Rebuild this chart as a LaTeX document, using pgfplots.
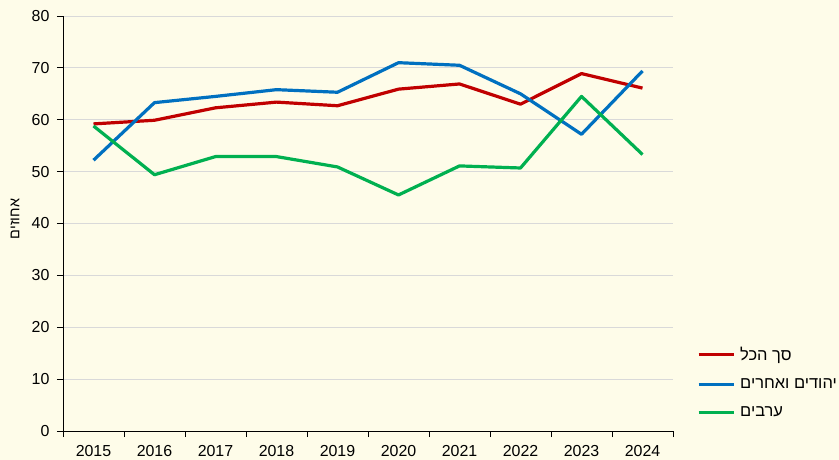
\documentclass[border=0pt]{standalone}
\usepackage{pgfplots}
\pgfplotsset{compat=1.18}
\usepackage{fontspec}
\setmainfont{Liberation Sans}
\newfontfamily\hebfont[Script=Hebrew]{Liberation Sans}
\TeXXeTstate=1
\definecolor{bgc}{HTML}{FEFCE9}
\definecolor{cred}{HTML}{C00000}
\definecolor{cblue}{HTML}{0070C0}
\definecolor{cgreen}{HTML}{00B050}
\definecolor{gridc}{HTML}{D9D9D9}
\begin{document}
\begin{tikzpicture}
\fill[bgc] (0,0) rectangle (839bp,460bp);
\begin{axis}[
  at={(63bp,29bp)}, anchor=south west,
  scale only axis, width=610bp, height=415bp,
  xmin=-0.5, xmax=9.5, ymin=0, ymax=80,
  axis x line*=bottom, axis y line*=left,
  axis line style={black, line width=0.8bp},
  xtick={0,...,9},
  xticklabels={2015,2016,2017,2018,2019,2020,2021,2022,2023,2024},
  minor xtick={-0.5,0.5,...,9.5},
  ytick={0,10,...,80},
  major x tick style={draw=none},
  minor x tick style={black, line width=0.8bp},
  y tick style={black, line width=0.8bp},
  tick align=outside, major tick length=6bp, minor tick length=6bp,
  ymajorgrids, grid style={gridc, line width=0.8bp},
  tick label style={font=\fontsize{16}{19}\selectfont},
  /pgf/number format/assume math mode=true,
  xticklabel style={yshift=-4.5bp},
  yticklabel style={xshift=-4bp},
  ylabel={\hebfont\beginR אחוזים\endR},
  every axis y label/.style={at={(axis description cs:-0.0787,0.511)}, anchor=center, rotate=90, font=\fontsize{14.5}{17}\selectfont},
  legend style={draw=none, fill=none, at={(1.039,0.208)}, anchor=north west,
    font=\fontsize{16.5}{19}\selectfont, row sep=13bp, inner sep=0pt},
  legend cell align=left,
  legend image code/.code={\draw[#1] (0bp,0bp) -- (35bp,0bp);},
  every axis plot/.append style={line width=3.2bp, line join=round},
]
\addplot[cred] coordinates {(0,59.2)(1,59.9)(2,62.3)(3,63.4)(4,62.7)(5,65.9)(6,66.9)(7,63.0)(8,68.9)(9,66.1)};
\addlegendentry{\hspace{3bp}\hebfont\beginR סך הכל\endR}
\addplot[cblue] coordinates {(0,52.2)(1,63.3)(2,64.5)(3,65.8)(4,65.3)(5,71.0)(6,70.5)(7,65.0)(8,57.2)(9,69.4)};
\addlegendentry{\hspace{3bp}\hebfont\beginR יהודים ואחרים\endR}
\addplot[cgreen] coordinates {(0,58.8)(1,49.4)(2,52.9)(3,52.9)(4,50.9)(5,45.5)(6,51.1)(7,50.7)(8,64.5)(9,53.3)};
\addlegendentry{\hspace{3bp}\hebfont\beginR ערבים\endR}
\end{axis}
\pgfresetboundingbox
\useasboundingbox (0,0) rectangle (839bp,460bp);
\end{tikzpicture}
\end{document}
